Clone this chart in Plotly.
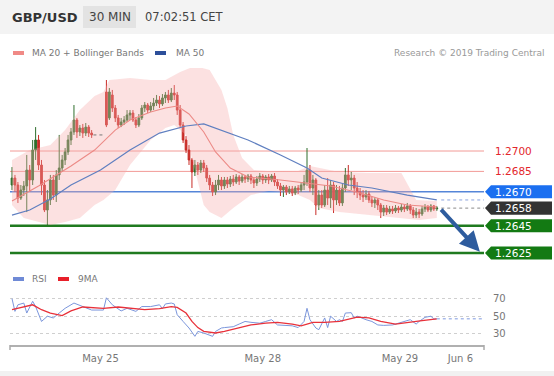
import plotly.graph_objects as go

# ---------------- data ----------------
# 30-minute candles (bar index); bars 28-31 fall in the weekend gap
bars = list(range(0, 28)) + list(range(32, 145))

open_ = [
    1.26750, 1.26801, 1.26750, 1.26654, 1.26713, 1.26743, 1.26860, 1.26787, 1.27007, 1.27081,
    1.26897, 1.26750, 1.26566, 1.26640, 1.26787, 1.26676, 1.26824, 1.26875, 1.26934, 1.26993,
    1.27081, 1.27140, 1.27228, 1.27140, 1.27169, 1.27132, 1.27176, 1.27132,
    1.27434, 1.27243, 1.27412, 1.27316, 1.27243, 1.27191, 1.27213, 1.27228, 1.27265, 1.27279,
    1.27228, 1.27191, 1.27243, 1.27316, 1.27338, 1.27301, 1.27331, 1.27353, 1.27375, 1.27346,
    1.27390, 1.27412, 1.27375, 1.27426, 1.27412, 1.27301, 1.27191, 1.27081, 1.27007, 1.26934,
    1.26846, 1.26897, 1.26860, 1.26912, 1.26875, 1.26801, 1.26750, 1.26699, 1.26750, 1.26787,
    1.26743, 1.26787, 1.26757, 1.26794, 1.26772, 1.26809, 1.26779, 1.26809, 1.26794, 1.26816,
    1.26787, 1.26765, 1.26794, 1.26816, 1.26787, 1.26809, 1.26787, 1.26816, 1.26772, 1.26743,
    1.26713, 1.26735, 1.26699, 1.26721, 1.26691, 1.26728, 1.26713, 1.26750, 1.26772, 1.26860,
    1.26728, 1.26787, 1.26603, 1.26676, 1.26603, 1.26713, 1.26654, 1.26750, 1.26640, 1.26713,
    1.26618, 1.26728, 1.26824, 1.26787, 1.26801, 1.26728, 1.26699, 1.26676, 1.26662, 1.26684,
    1.26640, 1.26618, 1.26640, 1.26603, 1.26551, 1.26581, 1.26551, 1.26574, 1.26559, 1.26581,
    1.26566, 1.26588, 1.26574, 1.26596, 1.26566, 1.26529, 1.26551, 1.26537, 1.26574, 1.26588,
    1.26566, 1.26596, 1.26574,
]
high = [
    1.26882, 1.26824, 1.26772, 1.26750, 1.26779, 1.26971, 1.26897, 1.27081, 1.27176, 1.27118,
    1.26934, 1.26787, 1.26713, 1.26824, 1.26824, 1.26860, 1.27118, 1.26971, 1.27022, 1.27118,
    1.27169, 1.27338, 1.27243, 1.27191, 1.27199, 1.27206, 1.27191, 1.27154,
    1.27522, 1.27463, 1.27449, 1.27338, 1.27265, 1.27243, 1.27257, 1.27301, 1.27301, 1.27301,
    1.27250, 1.27272, 1.27338, 1.27360, 1.27353, 1.27360, 1.27390, 1.27412, 1.27404, 1.27419,
    1.27434, 1.27449, 1.27463, 1.27485, 1.27434, 1.27338, 1.27213, 1.27110, 1.27044, 1.26949,
    1.26934, 1.26919, 1.26934, 1.26934, 1.26897, 1.26824, 1.26772, 1.26787, 1.26824, 1.26809,
    1.26809, 1.26809, 1.26816, 1.26824, 1.26831, 1.26824, 1.26831, 1.26824, 1.26831, 1.26831,
    1.26809, 1.26816, 1.26838, 1.26831, 1.26824, 1.26831, 1.26831, 1.26838, 1.26794, 1.26765,
    1.26750, 1.26750, 1.26743, 1.26743, 1.26743, 1.26750, 1.26772, 1.26824, 1.27022, 1.26897,
    1.26824, 1.26801, 1.26713, 1.26713, 1.26750, 1.26801, 1.26787, 1.26772, 1.26750, 1.26743,
    1.26757, 1.26875, 1.26897, 1.26846, 1.26824, 1.26772, 1.26728, 1.26713, 1.26713, 1.26706,
    1.26669, 1.26662, 1.26654, 1.26618, 1.26603, 1.26603, 1.26596, 1.26596, 1.26603, 1.26596,
    1.26610, 1.26603, 1.26618, 1.26610, 1.26588, 1.26581, 1.26574, 1.26596, 1.26610, 1.26603,
    1.26610, 1.26603, 1.26596,
]
low = [
    1.26713, 1.26699, 1.26618, 1.26640, 1.26669, 1.26551, 1.26699, 1.26750, 1.26934, 1.26860,
    1.26676, 1.26551, 1.26456, 1.26603, 1.26640, 1.26625, 1.26787, 1.26846, 1.26897, 1.26971,
    1.27044, 1.27118, 1.27096, 1.27110, 1.27096, 1.27110, 1.27103, 1.27096,
    1.27176, 1.27228, 1.27287, 1.27213, 1.27169, 1.27176, 1.27191, 1.27213, 1.27228, 1.27213,
    1.27169, 1.27176, 1.27228, 1.27287, 1.27279, 1.27287, 1.27301, 1.27331, 1.27316, 1.27331,
    1.27353, 1.27353, 1.27360, 1.27375, 1.27265, 1.27169, 1.27059, 1.26985, 1.26897, 1.26728,
    1.26816, 1.26824, 1.26838, 1.26846, 1.26772, 1.26713, 1.26669, 1.26676, 1.26713, 1.26713,
    1.26721, 1.26728, 1.26735, 1.26743, 1.26757, 1.26750, 1.26765, 1.26765, 1.26772, 1.26757,
    1.26728, 1.26743, 1.26772, 1.26757, 1.26765, 1.26757, 1.26772, 1.26743, 1.26721, 1.26669,
    1.26662, 1.26676, 1.26684, 1.26669, 1.26676, 1.26684, 1.26699, 1.26713, 1.26743, 1.26699,
    1.26676, 1.26529, 1.26566, 1.26581, 1.26588, 1.26603, 1.26581, 1.26544, 1.26603, 1.26596,
    1.26596, 1.26699, 1.26743, 1.26713, 1.26676, 1.26654, 1.26640, 1.26625, 1.26640, 1.26618,
    1.26588, 1.26581, 1.26566, 1.26507, 1.26522, 1.26529, 1.26537, 1.26537, 1.26544, 1.26544,
    1.26551, 1.26551, 1.26559, 1.26537, 1.26507, 1.26507, 1.26507, 1.26522, 1.26551, 1.26551,
    1.26551, 1.26559, 1.26559,
]
close = [
    1.26801, 1.26750, 1.26654, 1.26713, 1.26743, 1.26860, 1.26787, 1.27007, 1.27081, 1.26897,
    1.26750, 1.26566, 1.26640, 1.26787, 1.26676, 1.26824, 1.26875, 1.26934, 1.26993, 1.27081,
    1.27140, 1.27228, 1.27140, 1.27169, 1.27132, 1.27176, 1.27132, 1.27118,
    1.27191, 1.27434, 1.27316, 1.27243, 1.27191, 1.27213, 1.27228, 1.27265, 1.27279, 1.27228,
    1.27191, 1.27243, 1.27316, 1.27338, 1.27301, 1.27331, 1.27353, 1.27375, 1.27346, 1.27390,
    1.27412, 1.27375, 1.27426, 1.27412, 1.27301, 1.27191, 1.27081, 1.27007, 1.26934, 1.26846,
    1.26897, 1.26860, 1.26912, 1.26875, 1.26801, 1.26750, 1.26699, 1.26750, 1.26787, 1.26743,
    1.26787, 1.26757, 1.26794, 1.26772, 1.26809, 1.26779, 1.26809, 1.26794, 1.26816, 1.26787,
    1.26765, 1.26794, 1.26816, 1.26787, 1.26809, 1.26787, 1.26816, 1.26772, 1.26743, 1.26713,
    1.26735, 1.26699, 1.26721, 1.26691, 1.26728, 1.26713, 1.26750, 1.26772, 1.26860, 1.26728,
    1.26787, 1.26603, 1.26676, 1.26603, 1.26713, 1.26654, 1.26750, 1.26640, 1.26713, 1.26618,
    1.26728, 1.26824, 1.26787, 1.26801, 1.26728, 1.26699, 1.26676, 1.26662, 1.26684, 1.26640,
    1.26618, 1.26640, 1.26603, 1.26551, 1.26581, 1.26551, 1.26574, 1.26559, 1.26581, 1.26566,
    1.26588, 1.26574, 1.26596, 1.26566, 1.26529, 1.26551, 1.26537, 1.26574, 1.26588, 1.26566,
    1.26596, 1.26574, 1.26581,
]

# MA 20 and Bollinger bands (read at sampled bars)
ma20_bar = [0, 9, 20, 28, 35, 40, 47, 52, 56, 60, 65, 69, 74, 80, 91, 100, 108, 118, 126, 134, 144]
ma20 = [1.26632, 1.26743, 1.26890, 1.27007, 1.27154, 1.27228, 1.27287, 1.27316, 1.27331, 1.27272,
        1.27140, 1.26993, 1.26875, 1.26809, 1.26787, 1.26765, 1.26743, 1.26691, 1.26640, 1.26603, 1.26588]

bb_up_bar = [0, 6, 13, 18, 23, 28, 31, 33, 40, 47, 52, 57, 62, 67, 71, 73, 75, 78, 82, 91, 97, 101,
             111, 121, 132, 137, 144]
bb_up = [1.26934, 1.27007, 1.27044, 1.27154, 1.27301, 1.27404, 1.27434, 1.27522, 1.27537, 1.27522,
         1.27522, 1.27581, 1.27625, 1.27596, 1.27449, 1.27316, 1.27118, 1.26949, 1.26860, 1.26846,
         1.26853, 1.26890, 1.26846, 1.26838, 1.26838, 1.26640, 1.26632]
bb_lo_bar = [0, 4, 13, 18, 23, 28, 31, 35, 40, 47, 52, 55, 59, 62, 65, 67, 71, 75, 81, 87, 91, 97,
             101, 104, 111, 121, 132, 138, 144]
bb_lo = [1.26603, 1.26507, 1.26456, 1.26478, 1.26507, 1.26603, 1.26640, 1.26713, 1.26897, 1.27081,
         1.27169, 1.27191, 1.27118, 1.26860, 1.26603, 1.26551, 1.26507, 1.26581, 1.26676, 1.26706,
         1.26699, 1.26676, 1.26640, 1.26581, 1.26551, 1.26529, 1.26507, 1.26493, 1.26507]

# MA 50
ma50_bar = [0, 6, 13, 20, 30, 40, 50, 55, 59, 65, 80, 91, 100, 105, 114, 122, 134, 144]
ma50 = [1.26529, 1.26566, 1.26647, 1.26750, 1.26860, 1.27007, 1.27132, 1.27162, 1.27184, 1.27199,
        1.27081, 1.26971, 1.26875, 1.26801, 1.26750, 1.26728, 1.26676, 1.26640]

# RSI and its 9-period MA
rsi_bar = [0, 1, 2, 4, 5, 7, 8, 10, 12, 14, 16, 18, 21, 24, 27, 31, 32, 34, 37, 39, 42, 44, 47, 50,
           51, 52, 54, 55, 56, 58, 60, 62, 63, 65, 68, 69, 71, 72, 75, 77, 79, 81, 84, 86, 88, 90,
           93, 95, 97, 99, 100, 101, 103, 104, 106, 107, 108, 110, 111, 112, 113, 115, 116, 117,
           120, 122, 124, 126, 129, 131, 133, 135, 137, 138, 140, 142, 143, 144]
rsi = [70, 55.5, 63, 65, 53.6, 67, 61, 44, 50, 48, 53.6, 59, 65, 61, 57, 57, 71, 63, 56, 59, 55.5,
       61, 61, 63, 58.6, 64, 65, 64, 51.7, 44, 36.5, 27, 32.6, 30.8, 27, 32.6, 36.5, 37, 38, 41, 44,
       43, 42, 44, 46, 40, 39, 39, 37, 44, 59, 46, 36.5, 34.6, 48, 37, 50, 44, 46, 44, 53.6, 54, 48,
       50, 46, 44, 40, 39.5, 40, 42, 44, 46, 41, 44, 48.7, 50, 46.8, 47]
rsi_ma_bar = [0, 3, 7, 10, 13, 17, 20, 24, 27, 31, 36, 41, 45, 50, 54, 56, 59, 61, 63, 65, 69, 72,
              77, 81, 86, 90, 95, 98, 102, 106, 111, 115, 117, 121, 125, 130, 134, 139, 144]
rsi_ma = [57.4, 60, 63, 57.4, 53.6, 50.6, 56, 60.5, 60, 59, 60.5, 59, 57.4, 58.6, 61, 60, 53.6, 44,
          37, 32.7, 30.8, 32.7, 36.5, 40, 42, 43, 41, 39, 43, 43, 44, 47, 49, 48, 44, 41, 43, 45, 47]

# key levels
resistance = [1.2700, 1.2685]
pivot = 1.2670
last_price = 1.2658
support = [1.2645, 1.2625]
target = 1.2626

# x axis labels
date_pos = [30, 85, 131.5, 152]
date_lbl = ["May 25", "May 28", "May 29", "Jun 6"]
rsi_ticks = [30, 50, 70]

# ---------------- layout helpers ----------------
W, H = 554, 376
ML, MR, MT, MB = 10, 70, 68, 31
PW, PH = W - ML - MR, H - MT - MB
FONT = "DejaVu Sans"


def px(x):
    return (x - ML) / PW


def py(y):
    return (H - MB - y) / PH


XR = [-0.68, 160.0]
PRICE_R = [1.261618, 1.276103]
RSI_R = [17.1, 82.2]
HALF = 0.00048  # half height of level boxes (price units)

GREEN_UP = "#2f6e2c"
RED_DN = "#c92c27"

fig = go.Figure()

# Bollinger band fill
fig.add_trace(go.Scatter(
    x=bb_up_bar + bb_lo_bar[::-1], y=bb_up + bb_lo[::-1],
    fill="toself", fillcolor="rgba(247,172,172,0.36)", line=dict(width=0),
    mode="lines", hoverinfo="skip", xaxis="x", yaxis="y"))
fig.add_trace(go.Scatter(x=ma50_bar, y=ma50, mode="lines",
                         line=dict(color="#5f7fc0", width=1.2), xaxis="x", yaxis="y"))
fig.add_trace(go.Scatter(x=ma20_bar, y=ma20, mode="lines",
                         line=dict(color="#ec8a86", width=1.1), xaxis="x", yaxis="y"))

# weekend gap marker
fig.add_trace(go.Scatter(x=[bars[27] + 0.6, bars[28] - 0.6], y=[close[27], close[27]],
                         mode="lines", line=dict(color="#777", width=1, dash="dot"),
                         xaxis="x", yaxis="y"))

fig.add_trace(go.Candlestick(
    x=bars, open=open_, high=high, low=low, close=close,
    increasing=dict(line=dict(color=GREEN_UP, width=1), fillcolor=GREEN_UP),
    decreasing=dict(line=dict(color=RED_DN, width=1), fillcolor=RED_DN),
    whiskerwidth=0, xaxis="x", yaxis="y"))

# RSI panel
fig.add_trace(go.Scatter(x=rsi_bar, y=rsi, mode="lines",
                         line=dict(color="#7b96dc", width=1), xaxis="x2", yaxis="y2"))
fig.add_trace(go.Scatter(x=rsi_ma_bar, y=rsi_ma, mode="lines",
                         line=dict(color="#e8313a", width=1.3), xaxis="x2", yaxis="y2"))

shapes = []
annotations = []

# header band
shapes.append(dict(type="rect", xref="paper", yref="paper", x0=px(0), x1=px(W), y0=py(34), y1=py(0),
                   fillcolor="#f3f3f3", line=dict(width=0), layer="below"))
shapes.append(dict(type="rect", xref="paper", yref="paper", x0=px(83), x1=px(136), y0=py(28), y1=py(6),
                   fillcolor="#e3e3e3", line=dict(width=0), layer="below"))
# bottom strip
shapes.append(dict(type="rect", xref="paper", yref="paper", x0=px(0), x1=px(W), y0=py(H), y1=py(371),
                   fillcolor="#f1f1f1", line=dict(width=0), layer="below"))

annotations += [
    dict(text="<b>GBP/USD</b>", x=px(10), y=py(17), xref="paper", yref="paper", xanchor="left",
         yanchor="middle", showarrow=False, font=dict(family=FONT, size=13, color="#333")),
    dict(text="30 MIN", x=px(109.5), y=py(17), xref="paper", yref="paper", xanchor="center",
         yanchor="middle", showarrow=False, font=dict(family=FONT, size=12, color="#444")),
    dict(text="07:02:51 CET", x=px(143), y=py(17), xref="paper", yref="paper", xanchor="left",
         yanchor="middle", showarrow=False, font=dict(family=FONT, size=11.5, color="#444")),
    dict(text="MA 20 + Bollinger Bands", x=px(30), y=py(53), xref="paper", yref="paper",
         xanchor="left", yanchor="middle", showarrow=False, font=dict(family=FONT, size=9, color="#777")),
    dict(text="MA 50", x=px(174), y=py(53), xref="paper", yref="paper", xanchor="left",
         yanchor="middle", showarrow=False, font=dict(family=FONT, size=9, color="#777")),
    dict(text="Research © 2019 Trading Central", x=px(546), y=py(53), xref="paper", yref="paper",
         xanchor="right", yanchor="middle", showarrow=False, font=dict(family=FONT, size=9, color="#999")),
    dict(text="RSI", x=px(30), y=py(279), xref="paper", yref="paper", xanchor="left",
         yanchor="middle", showarrow=False, font=dict(family=FONT, size=9, color="#777")),
    dict(text="9MA", x=px(76), y=py(279), xref="paper", yref="paper", xanchor="left",
         yanchor="middle", showarrow=False, font=dict(family=FONT, size=9, color="#777")),
]
# legend swatches
for x0, x1, yc, col in [(13, 24, 53, "#f08a86"), (155, 166, 53, "#2d4f9a"),
                        (13, 24, 279, "#6f8ad6"), (58, 69, 279, "#e8202a")]:
    shapes.append(dict(type="rect", xref="paper", yref="paper", x0=px(x0), x1=px(x1),
                       y0=py(yc + 2), y1=py(yc - 2), fillcolor=col, line=dict(width=0)))

# level lines
for lv in resistance:
    shapes.append(dict(type="line", xref="paper", yref="y", x0=0, x1=1, y0=lv, y1=lv,
                       line=dict(color="#f29a96", width=1), layer="below"))
    annotations.append(dict(text=f"{lv:.4f}", x=px(493), y=lv, xref="paper", yref="y",
                            xanchor="left", yanchor="middle", showarrow=False,
                            font=dict(family=FONT, size=10.5, color="#e3262b")))
shapes.append(dict(type="line", xref="paper", yref="y", x0=0, x1=1, y0=pivot, y1=pivot,
                   line=dict(color="#5585d8", width=1.5), layer="below"))
for lv in support:
    shapes.append(dict(type="line", xref="paper", yref="y", x0=0, x1=1, y0=lv, y1=lv,
                       line=dict(color="#1f7a1f", width=2.5), layer="below"))

# dotted extensions to the right of the last candle
shapes.append(dict(type="line", xref="x", yref="y", x0=bars[-1] + 1.5, x1=XR[1], y0=last_price,
                   y1=last_price, line=dict(color="#8a8a8a", width=1, dash="dot")))
shapes.append(dict(type="line", xref="x", yref="y", x0=bars[-1] + 1.5, x1=XR[1], y0=ma50[-1],
                   y1=ma50[-1], line=dict(color="#8aa3dc", width=1, dash="dot")))
shapes.append(dict(type="line", xref="x2", yref="y2", x0=rsi_bar[-1], x1=XR[1], y0=rsi[-1],
                   y1=rsi[-1], line=dict(color="#a9bbea", width=1.5, dash="dot")))

# level boxes on the right
for lv, col in [(pivot, "#1b6ff0"), (last_price, "#333333"), (support[0], "#137a13"),
                (support[1], "#137a13")]:
    tip, b0, b1 = px(485), px(491), px(552)
    path = (f"M {tip},{lv} L {b0},{lv + HALF} L {b1},{lv + HALF} "
            f"L {b1},{lv - HALF} L {b0},{lv - HALF} Z")
    shapes.append(dict(type="path", xref="paper", yref="y", path=path, fillcolor=col,
                       line=dict(width=0)))
    annotations.append(dict(text=f"{lv:.4f}", x=px(493), y=lv, xref="paper", yref="y",
                            xanchor="left", yanchor="middle", showarrow=False,
                            font=dict(family=FONT, size=10.5, color="white")))

# x-axis end brackets
for xe in (0, 1):
    shapes.append(dict(type="line", xref="paper", yref="paper", x0=xe, x1=xe, y0=py(345), y1=py(350),
                       line=dict(color="#aaa", width=1.5)))

# forecast arrow
annotations.append(dict(x=158.6, y=target, ax=bars[-1] + 1, ay=last_price, xref="x", yref="y",
                        axref="x", ayref="y", text="", showarrow=True, arrowhead=2, arrowsize=1,
                        arrowwidth=4, arrowcolor="#2e5c9e", standoff=0, startstandoff=0))

fig.update_layout(
    width=W, height=H, margin=dict(l=ML, r=MR, t=MT, b=MB, pad=0),
    paper_bgcolor="white", plot_bgcolor="white", showlegend=False,
    font=dict(family=FONT, size=10, color="#777"), boxgap=0.15,
    shapes=shapes, annotations=annotations,
    xaxis=dict(domain=[0, 1], range=XR, anchor="y", visible=False, rangeslider=dict(visible=False),
               fixedrange=True),
    yaxis=dict(domain=[py(265), 1], range=PRICE_R, visible=False, fixedrange=True),
    xaxis2=dict(domain=[0, 1], range=XR, anchor="y2", showline=True, linecolor="#b0b0b0",
                linewidth=2, showgrid=False, zeroline=False, ticks="", tickvals=date_pos,
                ticktext=date_lbl, tickfont=dict(family=FONT, size=10, color="#777"),
                ticklabelstandoff=3, fixedrange=True),
    yaxis2=dict(domain=[0, py(288)], range=RSI_R, side="right", anchor="x2", showline=False,
                zeroline=False, showgrid=True, gridcolor="#cfcfcf", griddash="dot", gridwidth=1,
                tickvals=rsi_ticks, ticks="", tickfont=dict(family=FONT, size=10, color="#777"),
                ticklabelstandoff=8, fixedrange=True),
)

fig.write_html("out.html", config={"displayModeBar": False},
               post_script="document.body.style.margin='0';")
